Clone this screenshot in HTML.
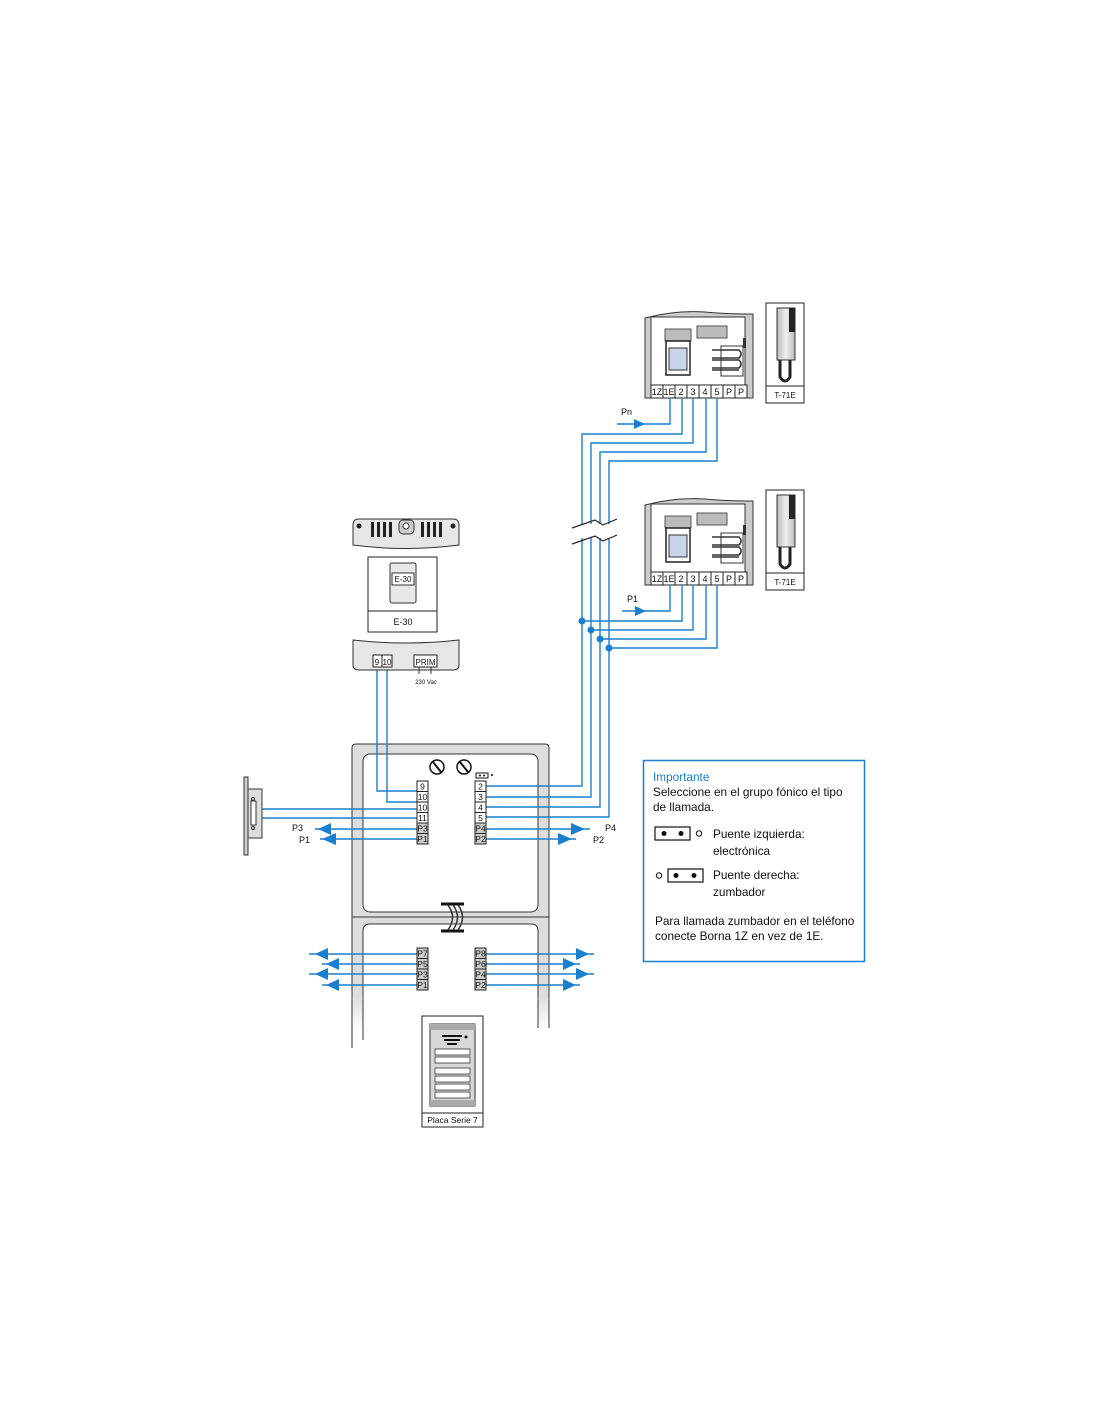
<!DOCTYPE html>
<html><head><meta charset="utf-8"><style>
html,body{margin:0;padding:0;background:#fff}
svg{display:block}
text{font-family:"Liberation Sans",sans-serif;fill:#111}
</style></head><body>
<svg width="1100" height="1422" viewBox="0 0 1100 1422" xmlns="http://www.w3.org/2000/svg">
<defs>
<linearGradient id="gr" x1="0" x2="1"><stop offset="0" stop-color="#bbb"/><stop offset="0.5" stop-color="#eee"/><stop offset="1" stop-color="#bbb"/></linearGradient>
<linearGradient id="fade" x1="0" y1="0" x2="0" y2="1"><stop offset="0" stop-color="#fff" stop-opacity="0"/><stop offset="1" stop-color="#fff" stop-opacity="1"/></linearGradient>
<g id="unit">
  <path d="M0,8 Q30,0 60,2 Q80,4 108,4 L108,88 L0,88 Z" fill="#ccc" stroke="#333" stroke-width="1"/>
  <path d="M6,7 L100,7 L100,75 L6,75 Z" fill="#fff" stroke="#333" stroke-width="1"/>
  <rect x="20" y="19" width="26" height="12" fill="#bbb" stroke="#555"/>
  <rect x="52" y="16" width="30" height="12" fill="#bbb" stroke="#555"/>
  <rect x="21" y="31" width="24" height="34" fill="#fff" stroke="#222" stroke-width="1.5"/>
  <rect x="24" y="38" width="18" height="22" fill="#c9d3ea" stroke="#333"/>
  <rect x="76" y="36" width="22" height="30" fill="#fff" stroke="#333"/>
  <path d="M67,40 H94 Q98,44 94,48 H67 M67,50 H94 Q98,54 94,58 H67 M67,60 H94" fill="none" stroke="#333" stroke-width="1.5"/>
  <rect x="98" y="28" width="3" height="10" fill="#333"/>
  <rect x="6" y="75" width="96" height="13" fill="#fff" stroke="#222"/>
  <g stroke="#222"><line x1="18" y1="75" x2="18" y2="88"/><line x1="30" y1="75" x2="30" y2="88"/><line x1="42" y1="75" x2="42" y2="88"/><line x1="54" y1="75" x2="54" y2="88"/><line x1="66" y1="75" x2="66" y2="88"/><line x1="78" y1="75" x2="78" y2="88"/><line x1="90" y1="75" x2="90" y2="88"/></g>
  <g font-size="9" text-anchor="middle"><text x="12" y="85">1Z</text><text x="24" y="85">1E</text><text x="36" y="85">2</text><text x="48" y="85">3</text><text x="60" y="85">4</text><text x="72" y="85">5</text><text x="84" y="85">P</text><text x="96" y="85">P</text></g>
</g>
<g id="hs">
  <rect x="0" y="0" width="38" height="100" fill="#fff" stroke="#222"/>
  <line x1="0" y1="83" x2="38" y2="83" stroke="#222"/>
  <rect x="11" y="5" width="18" height="52" fill="url(#gr)" stroke="#333"/>
  <rect x="23" y="5" width="6" height="24" fill="#222"/>
  <path d="M14,57 V74 Q19,82 24,74 V57" fill="none" stroke="#222" stroke-width="3"/>
  <text x="19" y="95" font-size="8" text-anchor="middle">T-71E</text>
</g>
</defs>

<!-- panel background -->
<path d="M352,1048 V748 Q352,744 356,744 H545 Q549,744 549,748 V1028" fill="#ddd" stroke="#333"/>
<rect x="363" y="754" width="175" height="158" rx="7" fill="#fff" stroke="#333"/>
<line x1="352" y1="917" x2="549" y2="917" stroke="#333"/>
<path d="M363,1040 V931 Q363,924 370,924 H531 Q538,924 538,931 V1028" fill="#fff" stroke="#333"/>
<rect x="351" y="995" width="202" height="36" fill="url(#fade)"/>
<rect x="351" y="1030" width="202" height="20" fill="#fff"/>
<line x1="352" y1="1000" x2="352" y2="1048" stroke="#333"/>
<line x1="363" y1="1000" x2="363" y2="1040" stroke="#333"/>
<line x1="538" y1="1000" x2="538" y2="1028" stroke="#333"/>
<line x1="549" y1="1000" x2="549" y2="1028" stroke="#333"/>

<!-- units -->
<use href="#unit" x="645" y="310"/>
<use href="#unit" x="645" y="497"/>
<use href="#hs" x="766" y="303"/>
<use href="#hs" x="766" y="490"/>

<!-- wires -->
<g fill="none" stroke="#1a7fcf" stroke-width="1.4">
  <polyline points="670,398 670,424 617,424"/>
  <polyline points="682,398 682,434 582,434 582,786 486,786"/>
  <polyline points="693,398 693,443 591,443 591,797 486,797"/>
  <polyline points="706,398 706,452 600,452 600,807 486,807"/>
  <polyline points="717,398 717,461 609,461 609,817 486,817"/>
  <polyline points="670,585 670,611 622,611"/>
  <polyline points="682,585 682,621 582,621"/>
  <polyline points="693,585 693,630 591,630"/>
  <polyline points="706,585 706,639 600,639"/>
  <polyline points="717,585 717,648 609,648"/>
  <polyline points="377,667 377,791 417,791"/>
  <polyline points="387,667 387,802 417,802"/>
  <line x1="262" y1="809" x2="417" y2="809"/>
  <line x1="262" y1="818" x2="417" y2="818"/>
  <line x1="315" y1="829" x2="417" y2="829"/>
  <line x1="320" y1="839" x2="417" y2="839"/>
  <line x1="486" y1="829" x2="590" y2="829"/>
  <line x1="486" y1="839" x2="576" y2="839"/>
  <line x1="309" y1="954" x2="417" y2="954"/>
  <line x1="322" y1="964" x2="417" y2="964"/>
  <line x1="309" y1="974" x2="417" y2="974"/>
  <line x1="322" y1="985" x2="417" y2="985"/>
  <line x1="486" y1="954" x2="594" y2="954"/>
  <line x1="486" y1="964" x2="580" y2="964"/>
  <line x1="486" y1="974" x2="594" y2="974"/>
  <line x1="486" y1="985" x2="580" y2="985"/>
</g>
<g fill="#1a7fcf">
  <polygon points="645,424 634,419 634,429"/>
  <polygon points="646,611 635,606 635,616"/>
  <circle cx="582" cy="621" r="3.5"/><circle cx="591" cy="630" r="3.5"/><circle cx="600" cy="639" r="3.5"/><circle cx="609" cy="648" r="3.5"/>
  <polygon points="318,829 331,823 331,835"/>
  <polygon points="322,839 336,833 336,845"/>
  <polygon points="585,829 571,823 571,835"/>
  <polygon points="572,839 558,833 558,845"/>
  <polygon points="315,954 328,948 328,960"/>
  <polygon points="326,964 339,958 339,970"/>
  <polygon points="315,974 328,968 328,980"/>
  <polygon points="326,985 339,979 339,991"/>
  <polygon points="589,954 576,948 576,960"/>
  <polygon points="576,964 563,958 563,970"/>
  <polygon points="589,974 576,968 576,980"/>
  <polygon points="576,985 563,979 563,991"/>
</g>
<!-- break -->
<rect x="570" y="524" width="50" height="14" fill="#fff"/>
<path d="M572,528 L595,520 L603,525 L617,519 M572,544 L595,536 L603,541 L617,535" fill="none" stroke="#222" stroke-width="1.2"/>
<text x="621" y="415" font-size="9">Pn</text>
<text x="627" y="602" font-size="9">P1</text>

<!-- power supply -->
<path d="M353,545 V525 Q353,519 359,519 H453 Q459,519 459,525 V545 Q406,552 353,545 Z" fill="#e6e6e6" stroke="#333"/>
<g fill="#222"><rect x="371" y="522" width="3" height="15"/><rect x="377" y="522" width="3" height="15"/><rect x="383" y="522" width="3" height="15"/><rect x="389" y="522" width="3" height="15"/><rect x="421" y="522" width="3" height="15"/><rect x="427" y="522" width="3" height="15"/><rect x="433" y="522" width="3" height="15"/><rect x="439" y="522" width="3" height="15"/>
<circle cx="359" cy="526" r="2.5"/><circle cx="453" cy="526" r="2.5"/></g>
<rect x="399" y="520" width="15" height="14" rx="4" fill="#ccc" stroke="#333"/><circle cx="406" cy="526" r="3" fill="#fff" stroke="#333"/>
<rect x="368" y="557" width="69" height="75" fill="#fff" stroke="#222"/>
<line x1="368" y1="611" x2="437" y2="611" stroke="#222"/>
<rect x="390" y="563" width="26" height="40" rx="2" fill="#e8e8e8" stroke="#333"/>
<rect x="392" y="573" width="22" height="12" fill="#fff" stroke="#333"/>
<text x="403" y="582" font-size="8" text-anchor="middle">E-30</text>
<text x="403" y="625" font-size="9" text-anchor="middle">E-30</text>
<path d="M353,640 Q406,646 459,640 V665 Q459,670 453,670 H359 Q353,670 353,665 Z" fill="#e6e6e6" stroke="#333"/>
<rect x="373" y="655" width="19" height="12" fill="#fff" stroke="#222"/><line x1="382" y1="655" x2="382" y2="667" stroke="#222"/>
<text x="377" y="665" font-size="8" text-anchor="middle">9</text><text x="387" y="665" font-size="8" text-anchor="middle">10</text>
<rect x="414" y="655" width="23" height="12" fill="#fff" stroke="#222"/><text x="425.5" y="665" font-size="8" text-anchor="middle">PRIM</text>
<path d="M419,667 V674 M431,667 V674" stroke="#333"/>
<text x="426" y="684" font-size="6" text-anchor="middle">230 Vac</text>

<!-- panel details -->
<path d="M441,904 H464 M441,931 H464" stroke="#111" stroke-width="3"/>
<path d="M448,905 Q457,917 448,930 M453,905 Q462,917 453,930 M458,905 Q467,917 458,930" fill="none" stroke="#333" stroke-width="1.5"/>
<circle cx="437" cy="767" r="7" fill="#fff" stroke="#111" stroke-width="1.5"/><line x1="433" y1="762" x2="441" y2="772" stroke="#111" stroke-width="2"/>
<circle cx="464" cy="767" r="7" fill="#fff" stroke="#111" stroke-width="1.5"/><line x1="460" y1="762" x2="468" y2="772" stroke="#111" stroke-width="2"/>
<rect x="476" y="773" width="12" height="5" fill="#fff" stroke="#111"/><circle cx="480" cy="775.5" r="1" fill="#111"/><circle cx="484" cy="775.5" r="1" fill="#111"/><circle cx="492" cy="775" r="1" fill="#111"/>
<g font-size="8.5" text-anchor="middle" stroke="#222">
<g fill="#fff"><rect x="417" y="781" width="11" height="10.5"/><rect x="417" y="791.5" width="11" height="10.5"/><rect x="417" y="802" width="11" height="10.5"/><rect x="417" y="812.5" width="11" height="10.5"/></g>
<g fill="#ccc"><rect x="417" y="823" width="11" height="10.5"/><rect x="417" y="833.5" width="11" height="10.5"/></g>
<g fill="#fff"><rect x="475" y="781" width="11" height="10.5"/><rect x="475" y="791.5" width="11" height="10.5"/><rect x="475" y="802" width="11" height="10.5"/><rect x="475" y="812.5" width="11" height="10.5"/></g>
<g fill="#ccc"><rect x="475" y="823" width="11" height="10.5"/><rect x="475" y="833.5" width="11" height="10.5"/>
<rect x="417" y="948" width="11" height="10.5"/><rect x="417" y="958.5" width="11" height="10.5"/><rect x="417" y="969" width="11" height="10.5"/><rect x="417" y="979.5" width="11" height="10.5"/>
<rect x="475" y="948" width="11" height="10.5"/><rect x="475" y="958.5" width="11" height="10.5"/><rect x="475" y="969" width="11" height="10.5"/><rect x="475" y="979.5" width="11" height="10.5"/></g>
</g>
<g font-size="8.5" text-anchor="middle">
<text x="422.5" y="789.5">9</text><text x="422.5" y="800">10</text><text x="422.5" y="810.5">10</text><text x="422.5" y="821">11</text><text x="422.5" y="831.5">P3</text><text x="422.5" y="842">P1</text>
<text x="480.5" y="789.5">2</text><text x="480.5" y="800">3</text><text x="480.5" y="810.5">4</text><text x="480.5" y="821">5</text><text x="480.5" y="831.5">P4</text><text x="480.5" y="842">P2</text>
<text x="422.5" y="956.5">P7</text><text x="422.5" y="967">P5</text><text x="422.5" y="977.5">P3</text><text x="422.5" y="988">P1</text>
<text x="480.5" y="956.5">P8</text><text x="480.5" y="967">P6</text><text x="480.5" y="977.5">P4</text><text x="480.5" y="988">P2</text>
</g>
<g font-size="9"><text x="292" y="831">P3</text><text x="299" y="843">P1</text><text x="605" y="831">P4</text><text x="593" y="843">P2</text></g>

<!-- lock -->
<rect x="244" y="777" width="4" height="78" fill="#ccc" stroke="#333"/>
<rect x="248" y="789" width="14" height="49" fill="#ddd" stroke="#333"/>
<rect x="251" y="801" width="5" height="24" fill="#fff" stroke="#333"/>
<circle cx="253" cy="799" r="1.5" fill="none" stroke="#333"/><circle cx="253" cy="828" r="1.5" fill="none" stroke="#333"/>

<!-- placa -->
<rect x="422" y="1016" width="61" height="111" fill="#fff" stroke="#222"/>
<line x1="422" y1="1113" x2="483" y2="1113" stroke="#222"/>
<rect x="430" y="1024" width="45" height="82" fill="#d8d8d8" stroke="#333"/>
<rect x="430" y="1024" width="45" height="6" fill="#aaa"/>
<rect x="430" y="1100" width="45" height="6" fill="#aaa"/>
<g fill="#111"><rect x="442" y="1035" width="20" height="2"/><rect x="444" y="1039" width="16" height="2"/><rect x="447" y="1043" width="10" height="2"/><circle cx="466" cy="1037" r="1.5"/></g>
<g fill="#fff" stroke="#333" stroke-width="0.8">
<rect x="435" y="1049" width="35" height="6"/><rect x="435" y="1057" width="35" height="6"/>
<rect x="435" y="1068" width="35" height="6"/><rect x="435" y="1076" width="35" height="6"/><rect x="435" y="1084" width="35" height="6"/><rect x="435" y="1092" width="35" height="6"/>
</g>
<text x="452.5" y="1123" font-size="8.5" text-anchor="middle">Placa Serie 7</text>

<!-- importante box -->
<rect x="643.5" y="760.5" width="221" height="201" fill="#fff" stroke="#1a7fcf" stroke-width="1.5"/>
<g font-size="11.8">
<text x="653" y="781" style="fill:#1a7fcf">Importante</text>
<text x="653" y="796">Seleccione en el grupo fónico el tipo</text>
<text x="653" y="811">de llamada.</text>
<text x="713" y="838">Puente izquierda:</text>
<text x="713" y="855">electrónica</text>
<text x="713" y="879">Puente derecha:</text>
<text x="713" y="896">zumbador</text>
<text x="655" y="925">Para llamada zumbador en el teléfono</text>
<text x="655" y="940">conecte Borna 1Z en vez de 1E.</text>
</g>
<rect x="655" y="827" width="35" height="13" fill="#fff" stroke="#111" stroke-width="1.2"/>
<circle cx="664" cy="833.5" r="2.5" fill="#111"/><circle cx="681" cy="833.5" r="2.5" fill="#111"/><circle cx="699" cy="833.5" r="2.7" fill="none" stroke="#111"/>
<rect x="668" y="869" width="35" height="13" fill="#fff" stroke="#111" stroke-width="1.2"/>
<circle cx="676" cy="875.5" r="2.5" fill="#111"/><circle cx="694" cy="875.5" r="2.5" fill="#111"/><circle cx="659" cy="875.5" r="2.7" fill="none" stroke="#111"/>
</svg>
</body></html>
